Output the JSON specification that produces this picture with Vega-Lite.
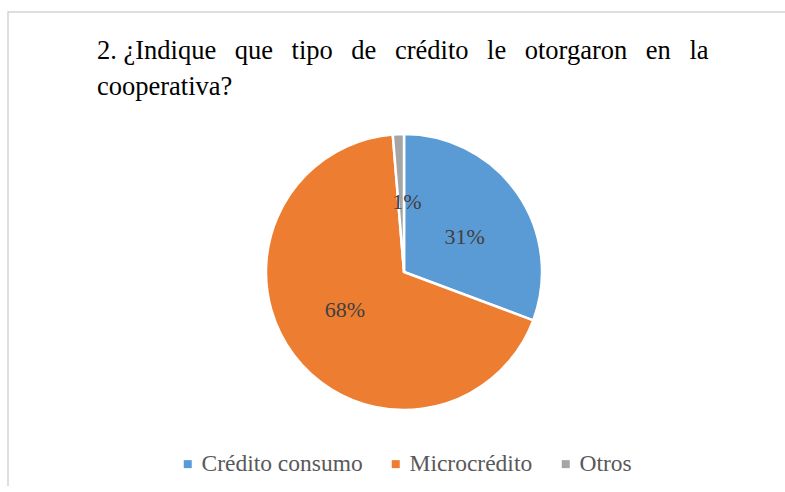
{
  "$schema": "https://vega.github.io/schema/vega-lite/v6.json",
  "autosize": "none",
  "width": 792,
  "height": 520,
  "padding": {"left": 8, "top": 12, "right": -15, "bottom": -46},
  "background": "white",
  "view": {"stroke": "#d4d4d4", "strokeWidth": 1.5, "fill": "white"},
  "title": {
    "text": ["2. ¿Indique\u2002\u2009que\u2002\u2009tipo\u2002\u2009de\u2002\u2009crédito\u2002\u2009le\u2002\u2009otorgaron\u2002\u2009en\u2002\u2009la", "cooperativa?"],
    "anchor": "start",
    "frame": "group",
    "orient": "top",
    "baseline": "top",
    "offset": -88,
    "dx": 89,
    "font": "Liberation Serif",
    "fontSize": 26.5,
    "fontWeight": "normal",
    "color": "#000000",
    "lineHeight": 36
  },
  "data": {
    "values": [
      {"tipo": "Crédito consumo", "porcentaje": 0.307},
      {"tipo": "Microcrédito", "porcentaje": 0.680},
      {"tipo": "Otros", "porcentaje": 0.013}
    ]
  },
  "encoding": {
    "theta": {"field": "porcentaje", "type": "quantitative", "stack": true}
  },
  "layer": [
    {
      "mark": {"type": "arc", "outerRadius": 138, "stroke": "white", "strokeWidth": 2.5},
      "encoding": {
        "color": {
          "field": "tipo",
          "type": "nominal",
          "scale": {"domain": ["Crédito consumo", "Microcrédito", "Otros"], "range": ["#5b9bd5", "#ed7d31", "#a5a5a5"]},
          "legend": {
            "title": null,
            "orient": "none",
            "direction": "horizontal",
            "legendX": 168,
            "legendY": 440,
            "symbolType": "square",
            "symbolSize": 64,
            "symbolStrokeWidth": 0,
            "labelFont": "Liberation Serif",
            "labelFontSize": 23.5,
            "labelColor": "#595959",
            "labelOffset": 2,
            "labelLimit": 400,
            "columnPadding": 21
          }
        }
      }
    },
    {
      "mark": {"type": "text", "radius": 70, "font": "Liberation Serif", "fontSize": 22, "fill": "#404040"},
      "encoding": {
        "detail": {"field": "tipo", "type": "nominal"},
        "text": {"field": "porcentaje", "type": "quantitative", "format": ".0%"}
      }
    }
  ],
  "config": {
    "view": {"stroke": "#d4d4d4", "strokeWidth": 1.5}
  }
}
